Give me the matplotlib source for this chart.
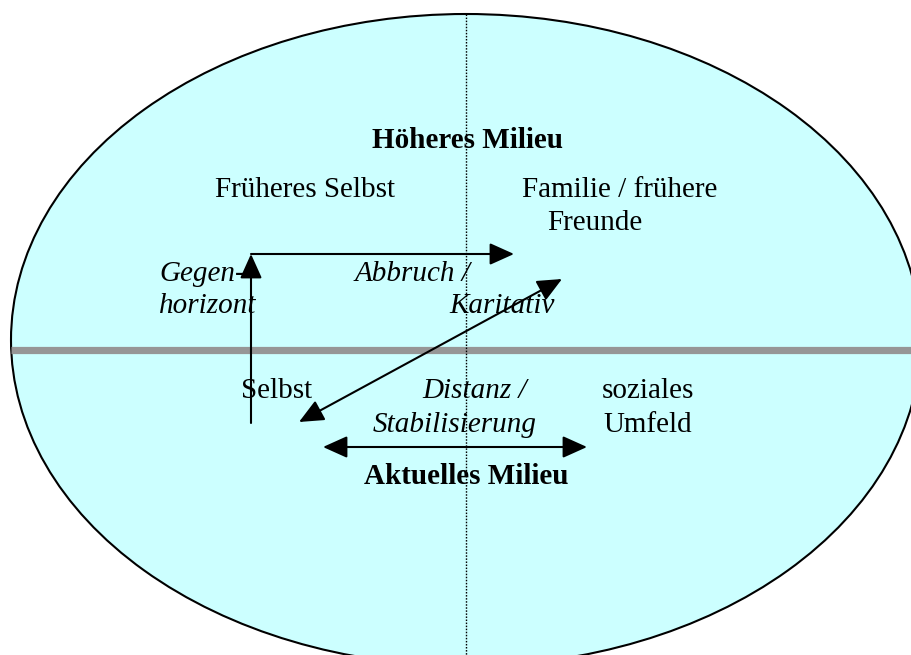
import matplotlib.pyplot as plt
from matplotlib.patches import Ellipse

# labels of the diagram (text, style)
labels = ['Höheres Milieu', 'Früheres Selbst', 'Familie / frühere', 'Freunde',
          'Gegen-', 'horizont', 'Abbruch /', 'Karitativ',
          'Selbst', 'Distanz /', 'Stabilisierung', 'soziales', 'Umfeld',
          'Aktuelles Milieu']
weights = ['bold', 'normal', 'normal', 'normal',
           'normal', 'normal', 'normal', 'normal',
           'normal', 'normal', 'normal', 'normal', 'normal',
           'bold']
styles = ['normal', 'normal', 'normal', 'normal',
          'italic', 'italic', 'italic', 'italic',
          'normal', 'italic', 'italic', 'normal', 'normal',
          'normal']

# arrows: start point, end point, style
arrow_from = [(251, 423), (251, 254), (299, 422), (323, 447)]
arrow_to = [(251, 254), (514, 254), (562, 279), (587, 447)]
arrow_kind = ['-|>', '-|>', '<|-|>', '<|-|>']

# layout (pixel space, left x and baseline y)
label_x = [372, 215, 522, 547, 159, 159, 355, 449, 241, 422, 373, 602, 603, 364]
label_y = [148, 197, 197, 230, 281, 313, 281, 313, 398, 398, 432, 398, 432, 484]

plt.rcParams['font.family'] = ['Liberation Serif', 'DejaVu Serif']

fig = plt.figure(figsize=(9.11, 6.55), dpi=100)
ax = fig.add_axes([0, 0, 1, 1])
ax.set_xlim(0, 911)
ax.set_ylim(655, 0)
ax.axis('off')

# big ellipse
ax.add_patch(Ellipse((466, 340), 910, 652, facecolor='#CCFFFF',
                     edgecolor='black', lw=1.5, zorder=1))

# gray horizontal divider and dotted vertical one
ax.plot([11, 911], [350, 350], color='#969696', lw=5.2, zorder=2,
        solid_capstyle='butt')
ax.plot([466, 466], [14, 655], color='black', lw=1.0, zorder=2,
        linestyle=(0, (1.1, 1.1)))

for p0, p1, kind in zip(arrow_from, arrow_to, arrow_kind):
    ax.annotate('', xy=p1, xytext=p0, zorder=4,
                arrowprops=dict(arrowstyle=kind + ',head_length=1.0,head_width=0.45',
                                mutation_scale=15, lw=1.5, color='black',
                                shrinkA=0, shrinkB=0))

for txt, x, y, w, s in zip(labels, label_x, label_y, weights, styles):
    ax.text(x, y, txt, fontsize=21, fontweight=w, fontstyle=s,
            ha='left', va='baseline', color='black', zorder=3)

fig.savefig('out.png', dpi=100)
